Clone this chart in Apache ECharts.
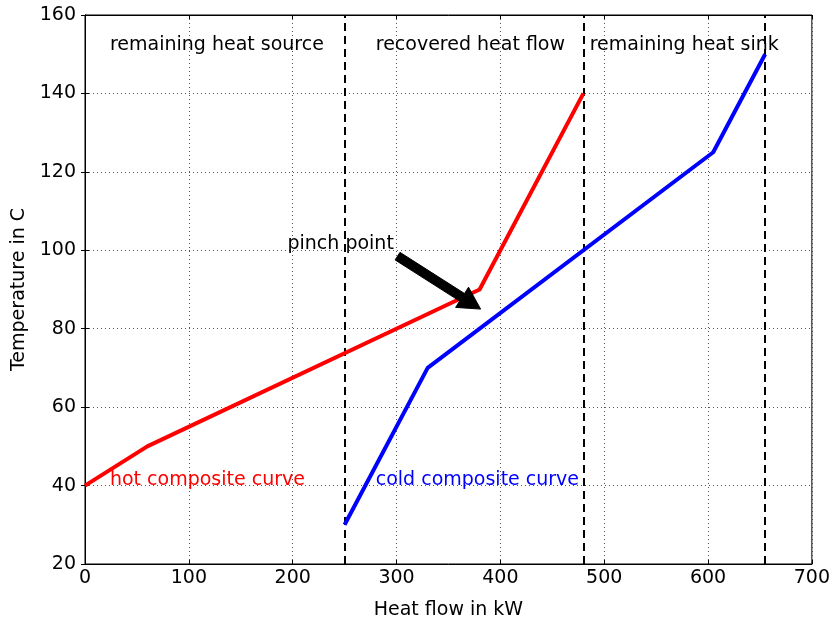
<!DOCTYPE html>
<html>
<head>
<meta charset="utf-8">
<script src="https://cdn.jsdelivr.net/npm/echarts@6/dist/echarts.min.js"></script>
<style>html,body{margin:0;padding:0;background:#fff}#c{width:833px;height:625px}</style>
</head>
<body>
<div id="c"></div>
<script>
// Data
const hotX = [0, 60, 380, 480];
const hotT = [40, 50, 90, 140];
const coldX = [250, 330, 605, 655];
const coldT = [30, 70, 125, 150];
const dividerX = [250, 480, 655];
const regionLabels = ['remaining heat source', 'recovered heat flow', 'remaining heat sink'];
const regionLabelX = [24, 280, 486];
const regionLabelT = [152.4, 152.4, 152.4];
const curveLabels = ['hot composite curve', 'cold composite curve'];
const curveLabelX = [24, 280];
const curveLabelT = [41.3, 41.3];
const pinchText = 'pinch point';
const pinchTextXY = [195, 101.6];
const pinchArrowFrom = [301, 98.5];
const pinchArrowTo = [381, 85];
const xTicks = [0, 100, 200, 300, 400, 500, 600, 700];
const yTicks = [20, 40, 60, 80, 100, 120, 140, 160];

const FONT = 'DejaVu Sans';
const FS = 19;
const chart = echarts.init(document.getElementById('c'), null, {renderer: 'canvas'});

function textSeries(texts, xs, ys, color) {
  return {
    type: 'scatter', symbolSize: 0, itemStyle: {color: color, opacity: 1},
    silent: true, z: 10,
    data: texts.map((t, i) => ({value: [xs[i], ys[i]], name: t})),
    label: {show: true, position: 'right', distance: 0, formatter: p => p.name,
      color: color, fontFamily: FONT, fontSize: FS, align: 'left', verticalAlign: 'middle',
      textBorderWidth: 0, opacity: 1}
  };
}

const axisCommon = {
  axisLine: {show: true, onZero: false, lineStyle: {color: '#000', width: 1}},
  axisTick: {show: true, inside: true, length: 4, lineStyle: {color: '#000'}},
  splitLine: {show: true, lineStyle: {color: '#555', type: [1, 3], width: 1}},
  axisLabel: {color: '#000', fontFamily: FONT, fontSize: FS},
  nameTextStyle: {color: '#000', fontFamily: FONT, fontSize: FS}
};

chart.setOption({
  animation: false,
  backgroundColor: '#fff',
  grid: {left: 85, right: 20, top: 15, bottom: 59, show: true, borderColor: '#000', borderWidth: 1},
  xAxis: [Object.assign({}, axisCommon, {
    type: 'value', min: 0, max: 700, interval: 100,
    name: 'Heat flow in kW', nameLocation: 'middle', nameGap: 37,
    axisLabel: Object.assign({}, axisCommon.axisLabel, {margin: 5})
  }), {
    type: 'value', position: 'top', min: 0, max: 700, interval: 100,
    axisLine: {show: true, lineStyle: {color: '#000'}},
    axisTick: {show: true, inside: true, length: 4, lineStyle: {color: '#000'}},
    axisLabel: {show: false}, splitLine: {show: false}
  }],
  yAxis: [Object.assign({}, axisCommon, {
    type: 'value', min: 20, max: 160, interval: 20,
    name: 'Temperature in C', nameLocation: 'middle', nameGap: 53,
    axisLabel: Object.assign({}, axisCommon.axisLabel, {margin: 9})
  }), {
    type: 'value', position: 'right', min: 20, max: 160, interval: 20,
    axisLine: {show: true, lineStyle: {color: '#000'}},
    axisTick: {show: true, inside: true, length: 4, lineStyle: {color: '#000'}},
    axisLabel: {show: false}, splitLine: {show: false}
  }],
  series: [
    {
      type: 'line', data: hotX.map((x, i) => [x, hotT[i]]), showSymbol: false,
      lineStyle: {color: '#ff0000', width: 4}, z: 5,
      markLine: {
        silent: true, symbol: ['none', 'none'], label: {show: false},
        lineStyle: {color: '#000', type: [8, 5], width: 2},
        data: dividerX.map(x => ({xAxis: x}))
      }
    },
    {
      type: 'line', data: coldX.map((x, i) => [x, coldT[i]]), showSymbol: false,
      lineStyle: {color: '#0000ff', width: 4}, z: 5
    },
    {
      type: 'custom', silent: true, z: 8,
      data: [[pinchArrowFrom[0], pinchArrowFrom[1], pinchArrowTo[0], pinchArrowTo[1]]],
      renderItem: function (params, api) {
        const p0 = api.coord([api.value(0), api.value(1)]);
        const p1 = api.coord([api.value(2), api.value(3)]);
        const dx = p1[0] - p0[0], dy = p1[1] - p0[1];
        const L = Math.sqrt(dx * dx + dy * dy);
        const ux = dx / L, uy = dy / L, nx = -uy, ny = ux;
        const hw = 4.5, hh = 12, hl = 22;
        const bx = p1[0] - ux * hl, by = p1[1] - uy * hl;
        const pts = [
          [p0[0] + nx * hw, p0[1] + ny * hw],
          [bx + nx * hw, by + ny * hw],
          [bx + nx * hh, by + ny * hh],
          [p1[0], p1[1]],
          [bx - nx * hh, by - ny * hh],
          [bx - nx * hw, by - ny * hw],
          [p0[0] - nx * hw, p0[1] - ny * hw]
        ];
        return {type: 'polygon', shape: {points: pts}, style: {fill: '#000', stroke: '#000', lineWidth: 1}};
      }
    },
    textSeries(regionLabels, regionLabelX, regionLabelT, '#000'),
    textSeries([curveLabels[0]], [curveLabelX[0]], [curveLabelT[0]], '#ff0000'),
    textSeries([curveLabels[1]], [curveLabelX[1]], [curveLabelT[1]], '#0000ff'),
    textSeries([pinchText], [pinchTextXY[0]], [pinchTextXY[1]], '#000')
  ]
});
</script>
</body>
</html>
